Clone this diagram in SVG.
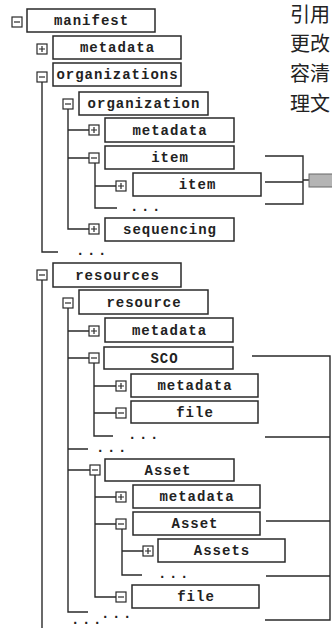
<svg xmlns="http://www.w3.org/2000/svg" width="332" height="628" viewBox="0 0 332 628">
<style>
.box{fill:#fff;stroke:#2a2a2a;stroke-width:1.5}
.tg rect{fill:#fff;stroke:#2a2a2a;stroke-width:1.2}
.tg path{stroke:#2a2a2a;stroke-width:1.2;fill:none}
.ln{stroke:#2a2a2a;stroke-width:1.4;fill:none}
.t{font-family:"Liberation Mono","DejaVu Sans Mono",monospace;font-size:14px;font-weight:bold;letter-spacing:1px;fill:#222;text-anchor:middle}
.d{font-family:"Liberation Mono","DejaVu Sans Mono",monospace;font-size:14px;font-weight:bold;letter-spacing:2.6px;fill:#222}
.cjk{font-family:"Noto Sans CJK SC",sans-serif;font-size:20px;fill:#222}
</style>
<defs>
<g id="mn" class="tg"><rect x="-5" y="-5" width="10" height="10"/><path d="M-3 0H3"/></g>
<g id="pl" class="tg"><rect x="-5" y="-5" width="10" height="10"/><path d="M-3 0H3M0 -3V3"/></g>
</defs>
<g id="connectors">
<path class="ln" d="M42 82V252H58"/>
<path class="ln" d="M68 109V229H89M68 130H89M68 158H89"/>
<path class="ln" d="M95 163V208H117M95 186H116"/>
<path class="ln" d="M42 280V628"/>
<path class="ln" d="M68 308V612H88M68 331H89M68 358H89M68 449H88M68 470H90"/>
<path class="ln" d="M94 363V436H113M94 386H116M94 413H116"/>
<path class="ln" d="M95 475V597H116M95 497H116M95 524H116"/>
<path class="ln" d="M122 529V575H142M122 551H143"/>
<path class="ln" d="M265 156H303V204H265M265 182H303M303 180H309"/>
<path class="ln" d="M252 356H330V620H265M265 437H330M266 521H330M266 576H330"/>
</g>
<g id="dots">
<text class="d" x="76" y="255">...</text>
<text class="d" x="130" y="211">...</text>
<text class="d" x="128" y="439">...</text>
<text class="d" x="96" y="452">...</text>
<text class="d" x="158" y="578">...</text>
<text class="d" x="101" y="618">...</text>
<text class="d" x="71" y="623.5">...</text>
</g>
<g id="n-manifest"><use href="#mn" x="17" y="22"/><rect class="box" x="27" y="9" width="128" height="23"/><text class="t" x="91.5" y="25">manifest</text></g>
<g id="n-metadata1"><use href="#pl" x="42" y="49"/><rect class="box" x="53" y="36" width="128" height="23"/><text class="t" x="117.5" y="52">metadata</text></g>
<g id="n-organizations"><use href="#mn" x="42" y="77"/><rect class="box" x="53" y="63" width="128" height="23"/><text class="t" x="117.5" y="79">organizations</text></g>
<g id="n-organization"><use href="#mn" x="68" y="104"/><rect class="box" x="79" y="92" width="129" height="23"/><text class="t" x="144" y="108">organization</text></g>
<g id="n-metadata2"><use href="#pl" x="94" y="130"/><rect class="box" x="105" y="118" width="129" height="24"/><text class="t" x="170" y="134.5">metadata</text></g>
<g id="n-item1"><use href="#mn" x="94" y="158"/><rect class="box" x="105" y="146" width="129" height="23"/><text class="t" x="170" y="162">item</text></g>
<g id="n-item2"><use href="#pl" x="121" y="186"/><rect class="box" x="133" y="173" width="128" height="23"/><text class="t" x="197.5" y="189">item</text></g>
<g id="n-sequencing"><use href="#pl" x="94" y="229"/><rect class="box" x="105" y="218" width="129" height="23"/><text class="t" x="170" y="234">sequencing</text></g>
<g id="n-resources"><use href="#mn" x="42" y="275"/><rect class="box" x="53" y="263" width="128" height="24"/><text class="t" x="117.5" y="279.5">resources</text></g>
<g id="n-resource"><use href="#mn" x="68" y="303"/><rect class="box" x="79" y="290" width="129" height="24"/><text class="t" x="144" y="306.5">resource</text></g>
<g id="n-metadata3"><use href="#pl" x="94" y="331"/><rect class="box" x="105" y="318" width="128" height="24"/><text class="t" x="169.5" y="334.5">metadata</text></g>
<g id="n-sco"><use href="#mn" x="94" y="358"/><rect class="box" x="104" y="347" width="129" height="22"/><text class="t" x="164.5" y="362.5">SCO</text></g>
<g id="n-metadata4"><use href="#pl" x="121" y="386"/><rect class="box" x="131" y="374" width="127" height="23"/><text class="t" x="195" y="390">metadata</text></g>
<g id="n-file1"><use href="#mn" x="121" y="413"/><rect class="box" x="131" y="401" width="127" height="22"/><text class="t" x="195" y="416.5">file</text></g>
<g id="n-asset1"><use href="#mn" x="95" y="470"/><rect class="box" x="105" y="459" width="129" height="22"/><text class="t" x="168" y="474.5">Asset</text></g>
<g id="n-metadata5"><use href="#pl" x="121" y="497"/><rect class="box" x="133" y="485" width="127" height="23"/><text class="t" x="197" y="501">metadata</text></g>
<g id="n-asset2"><use href="#mn" x="121" y="524"/><rect class="box" x="133" y="512" width="127" height="23"/><text class="t" x="195" y="528">Asset</text></g>
<g id="n-assets"><use href="#pl" x="148" y="551"/><rect class="box" x="158" y="539" width="127" height="23"/><text class="t" x="222" y="555">Assets</text></g>
<g id="n-file2"><use href="#mn" x="121" y="597"/><rect class="box" x="132" y="585" width="127" height="23"/><text class="t" x="196" y="601">file</text></g>
<g id="n-target"><rect x="309" y="174" width="24" height="13" fill="#b4b4b4" stroke="#666" stroke-width="1"/></g>
<g id="side-text">
<text class="cjk" x="290" y="22">引用</text>
<text class="cjk" x="290" y="51">更改</text>
<text class="cjk" x="290" y="81">容清</text>
<text class="cjk" x="290" y="111">理文</text>
</g>
</svg>
